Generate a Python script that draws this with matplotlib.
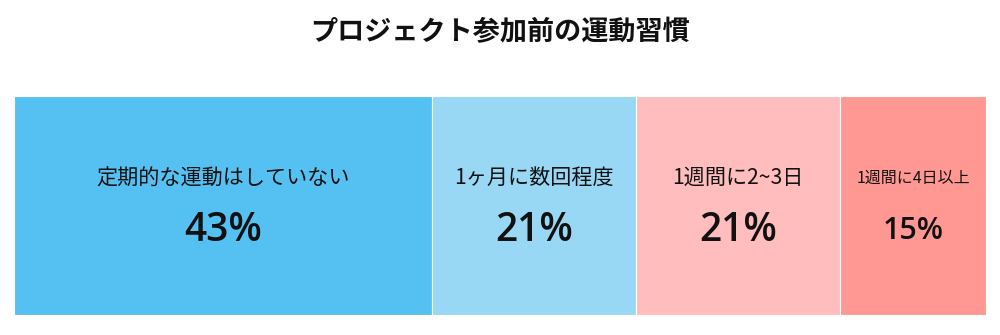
import matplotlib.pyplot as plt

plt.rcParams['font.family'] = ['Noto Sans CJK JP', 'DejaVu Sans']

# data
labels = ['定期的な運動はしていない', '1ヶ月に数回程度', '1週間に2~3日', '1週間に4日以上']
values = [43, 21, 21, 15]
colors = ['#55c1f2', '#99d8f5', '#ffbdbd', '#ff9893']
label_sizes = [15.2, 15.2, 15.2, 11.5]
pct_sizes = [28, 28, 28, 22]

fig = plt.figure(figsize=(10, 3.35), dpi=100)
ax = fig.add_axes([0.014, 0.0597, 0.972, 0.6537])

left = 0
for lab, v, c, ls, ps in zip(labels, values, colors, label_sizes, pct_sizes):
    ax.barh(0.5, v, left=left, height=1.0, color=c, edgecolor='white', linewidth=0.8)
    cx = left + v / 2
    ax.text(cx, 0.625, lab, ha='center', va='center', fontsize=ls, color='#111111')
    ax.text(cx, 0.385, f'{v}%', ha='center', va='center', fontsize=ps,
            fontweight='semibold', family=['Open Sans', 'DejaVu Sans'], color='#111111')
    left += v

ax.set_xlim(0, sum(values))
ax.set_ylim(0, 1)
ax.axis('off')

fig.text(0.5, 0.905, 'プロジェクト参加前の運動習慣', ha='center', va='center',
         fontsize=19.5, fontweight='bold', color='#111111')

fig.savefig('out.png', dpi=100, facecolor='white')
